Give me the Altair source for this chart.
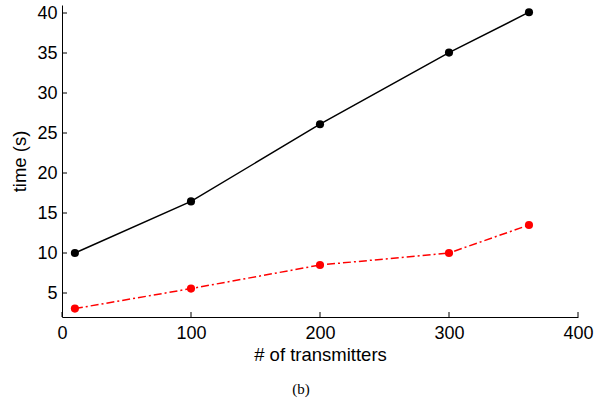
import altair as alt
import pandas as pd

x_vals = [10, 100, 200, 300, 362]
black_vals = [10.0, 16.45, 26.1, 35.05, 40.1]
red_vals = [3.05, 5.55, 8.5, 10.0, 13.5]
x_ticks = [0, 100, 200, 300, 400]
y_ticks = [5, 10, 15, 20, 25, 30, 35, 40]

df = pd.DataFrame({
    "x": x_vals * 2,
    "y": black_vals + red_vals,
    "series": ["black"] * len(x_vals) + ["red"] * len(x_vals),
})
black = df[df.series == "black"]
red = df[df.series == "red"]

FONT = "Liberation Sans"
xs = alt.Scale(domain=[0, 400], nice=False, zero=False)
ys = alt.Scale(domain=[2, 41], nice=False, zero=False)

X = alt.X("x:Q", scale=xs, axis=alt.Axis(
    values=x_ticks, title="# of transmitters", ticks=False, labelPadding=7,
    labelFontSize=18, titleFontSize=18.5, labelFont=FONT, titleFont=FONT,
    titleFontWeight="normal", labelColor="#000", titleColor="#000",
    domainColor="#000", titlePadding=3, grid=False, labelFlush=False))
Y = alt.Y("y:Q", scale=ys, axis=alt.Axis(
    values=y_ticks, title="time (s)", ticks=False, labelPadding=5,
    labelFontSize=18, titleFontSize=18.5, labelFont=FONT, titleFont=FONT,
    titleFontWeight="normal", labelColor="#000", titleColor="#000",
    domainColor="#000", titlePadding=7, grid=False))

black_line = alt.Chart(black).mark_line(color="black", strokeWidth=1.5).encode(x=X, y=Y)
black_pts = alt.Chart(black).mark_circle(color="black", size=66, opacity=1).encode(x=X, y=Y)
red_line = alt.Chart(red).mark_line(color="#ff0000", strokeWidth=1.5,
                                    strokeDash=[8, 3, 2, 3]).encode(x=X, y=Y)
red_pts = alt.Chart(red).mark_circle(color="#ff0000", size=66, opacity=1).encode(x=X, y=Y)

xt = pd.DataFrame({"t": x_ticks})
yt = pd.DataFrame({"t": y_ticks})
x_tick_marks = alt.Chart(xt).mark_rule(color="#000", strokeWidth=1).encode(
    x=alt.X("t:Q", scale=xs), y=alt.value(312), y2=alt.value(307))
y_tick_marks = alt.Chart(yt).mark_rule(color="#000", strokeWidth=1).encode(
    y=alt.Y("t:Q", scale=ys), x=alt.value(0), x2=alt.value(5))

chart = alt.layer(
    x_tick_marks, y_tick_marks, black_line, red_line, black_pts, red_pts
).properties(
    width=516, height=312,
    title=alt.TitleParams("(b)", orient="bottom", font="Liberation Serif",
                          fontSize=15, fontWeight="normal", color="#000",
                          offset=18, dx=-19),
    autosize=alt.AutoSizeParams(type="none"),
    padding={"left": 62, "top": 5, "right": 23, "bottom": 83},
).configure(background="white").configure_view(stroke="transparent", strokeWidth=0)

chart.save("out.html", embed_options={"renderer": "svg", "actions": False})
